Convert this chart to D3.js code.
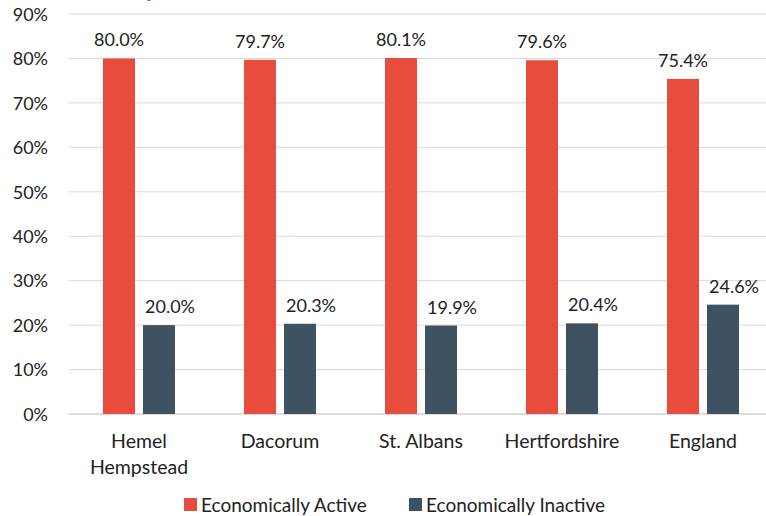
<!DOCTYPE html>
<html><head><meta charset="utf-8">
<script src="https://cdn.jsdelivr.net/npm/d3@7"></script>
<style>body{margin:0;background:#fff}svg{display:block;font-family:Lato,"Noto Sans",sans-serif}</style>
</head><body><svg id="c" width="766" height="516"></svg>
<script>
const categories = [["Hemel","Hempstead"],["Dacorum"],["St. Albans"],["Hertfordshire"],["England"]];
const active = [80.0, 79.7, 80.1, 79.6, 75.4];
const inactive = [20.0, 20.3, 19.9, 20.4, 24.6];
const seriesNames = ["Economically Active","Economically Inactive"];
const yTicks = [0,10,20,30,40,50,60,70,80,90];
const colors = ["#E84C3D","#3F5261"];

(function(){
const svg = d3.select("#c");
const pl = 68.5, pr = 773.5, pt = 14, pb = 414;
const x = d3.scaleBand().domain(d3.range(categories.length)).range([pl,pr]).padding(0);
const y = d3.scaleLinear().domain([0,90]).range([pb,pt]);

// cut-off title fragment
svg.append("text").attr("x",158).attr("y",-3).attr("text-anchor","end")
  .attr("font-size",26).attr("font-weight","bold").attr("fill","#E84C3D").text("Economic Activity");

// gridlines
svg.append("g").selectAll("line").data(yTicks).join("line")
  .attr("x1",pl).attr("x2",pr).attr("y1",d=>y(d)).attr("y2",d=>y(d))
  .attr("stroke",d=>d===0?"#d0d0d0":"#d9d9d9").attr("stroke-width",d=>d===0?1.5:1);

// y axis labels
const yAxis = d3.axisLeft(y).tickValues(yTicks).tickFormat(d=>d+"%").tickSize(0).tickPadding(0);
const ga = svg.append("g").attr("transform","translate(48,0)").call(yAxis);
ga.select(".domain").remove();
ga.selectAll("text").attr("font-size",18).attr("fill","#222").attr("font-family","Lato,'Noto Sans',sans-serif").attr("dy","0.35em");

const bw = 32, off1 = 34.5, off2 = 74.5;
const groups = [active, inactive];
groups.forEach((vals,si)=>{
  const off = si===0?off1:off2;
  svg.append("g").selectAll("rect").data(vals).join("rect")
    .attr("x",(d,i)=>x(i)+off).attr("width",bw)
    .attr("y",d=>y(d)).attr("height",d=>pb-y(d))
    .attr("fill",colors[si]);
  svg.append("g").selectAll("text").data(vals).join("text")
    .attr("x",(d,i)=>x(i)+off+bw/2+(si===0?0:11))
    .attr("y",d=>y(d)-12)
    .attr("text-anchor","middle").attr("font-size",18).attr("fill","#222")
    .text(d=>d.toFixed(1)+"%");
});

// category labels
const cg = svg.append("g");
categories.forEach((lines,i)=>{
  const t = cg.append("text").attr("text-anchor","middle").attr("font-size",19.5).attr("fill","#222");
  lines.forEach((l,j)=>t.append("tspan").attr("x",x(i)+x.bandwidth()/2).attr("y",448+j*26).text(l));
});

// legend
const leg = [{x:184},{x:409}];
leg.forEach((p,i)=>{
  svg.append("rect").attr("x",p.x).attr("y",498).attr("width",13).attr("height",13).attr("fill",colors[i]);
  svg.append("text").attr("x",p.x+17).attr("y",511.5).attr("font-size",19).attr("fill","#222").text(seriesNames[i]);
});
})();
</script></body></html>
